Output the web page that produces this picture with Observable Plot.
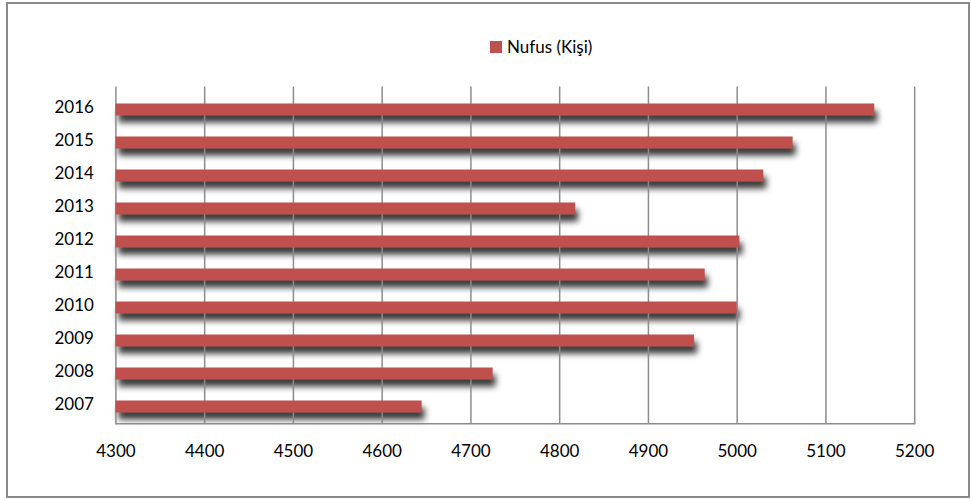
<!DOCTYPE html>
<html>
<head>
<meta charset="utf-8">
<script src="https://cdn.jsdelivr.net/npm/d3@7"></script>
<script src="https://cdn.jsdelivr.net/npm/@observablehq/plot@0.6"></script>
<style>
  html, body { margin: 0; padding: 0; background: #fff; }
  body { width: 971px; height: 500px; position: relative; overflow: hidden; font-family: Lato, "Open Sans", sans-serif; }
  #frame { position: absolute; left: 6px; top: 2px; width: 964px; height: 496px; box-sizing: border-box; border: 2px solid #8a8a8a; pointer-events: none; }
  #legend { height: 70px; position: relative; }
  #legend .item { position: absolute; left: 490px; top: 36px; display: flex; align-items: center; font-size: 17px; color: #000; }
  #legend .sw { width: 12px; height: 12px; background: #C0504D; margin-right: 5px; }
  #chart svg { display: block; }
</style>
</head>
<body>
<div id="legend"><div class="item"><div class="sw"></div><span>Nufus (Kişi)</span></div></div>
<div id="chart"></div>
<div id="frame"></div>
<script>
const years = ["2016", "2015", "2014", "2013", "2012", "2011", "2010", "2009", "2008", "2007"];
const population = [5155, 5063, 5030, 4818, 5003, 4964, 5000, 4952, 4725, 4645];
const xTicks = [4300, 4400, 4500, 4600, 4700, 4800, 4900, 5000, 5100, 5200];
const seriesName = "Nufus (Kişi)";

const data = years.map((year, i) => ({year, value: population[i]}));
const base = xTicks[0];

const svg = Plot.plot({
  width: 971,
  height: 410,
  marginTop: 16.6,
  marginBottom: 56.7,
  marginLeft: 115.4,
  marginRight: 56.8,
  style: {fontFamily: "Lato, 'Open Sans', sans-serif", fontSize: "17px", color: "#000", background: "transparent"},
  x: {domain: [xTicks[0], xTicks[xTicks.length - 1]], ticks: xTicks, tickSize: 0, tickPadding: 21, label: null, tickFormat: d => String(d)},
  y: {type: "band", domain: years, paddingInner: 0.64, paddingOuter: 0.32, tickSize: 0, tickPadding: 22, label: null},
  marks: [
    Plot.barX(data, {x1: base, x2: "value", y: "year", fill: "#000", fillOpacity: 0.78, dx: 3, dy: 9.5}),
    Plot.ruleX(xTicks, {stroke: "#8c8c8c", strokeWidth: 1.5}),
    Plot.barX(data, {x1: base, x2: "value", y: "year", fill: "#C0504D", dy: 2.5}),
    Plot.frame({anchor: "bottom", stroke: "#8c8c8c", strokeWidth: 1.5})
  ]
});
const bars = svg.querySelectorAll('g[aria-label="bar"]');
if (bars.length) bars[0].style.filter = "blur(3px)";
document.getElementById("chart").appendChild(svg);
</script>
</body>
</html>
